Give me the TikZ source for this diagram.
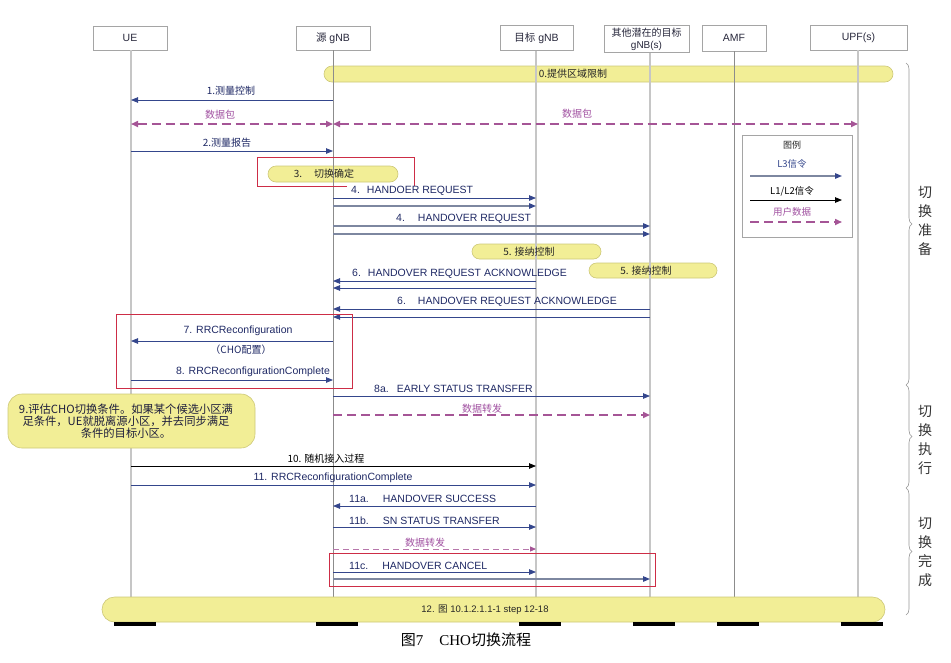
\documentclass[tikz,border=0pt]{standalone}
\usepackage{fontspec}
\setmainfont{Liberation Sans}
\newfontfamily\cjk{Noto Sans CJK SC}
\newfontfamily\lserif{Liberation Serif}
\usetikzlibrary{arrows.meta,decorations.pathreplacing,calc}
\definecolor{lblue}{RGB}{52,70,140}
\definecolor{lgray}{RGB}{125,135,160}
\definecolor{ltext}{RGB}{30,40,100}
\definecolor{upurple}{RGB}{165,85,150}
\definecolor{ptext}{RGB}{160,80,160}
\definecolor{yfill}{RGB}{242,238,150}
\definecolor{ydraw}{RGB}{205,200,120}
\definecolor{rbox}{RGB}{205,45,70}
\definecolor{lline}{RGB}{198,198,198}
\definecolor{dline}{RGB}{140,140,140}
\definecolor{hdrdraw}{RGB}{165,165,165}
\definecolor{htext}{RGB}{40,40,60}
\definecolor{bracec}{RGB}{150,150,150}
\newcommand\sqmsg[4][]{\draw[#1] (#2 |- 0,#4) -- (#3 |- 0,#4);}
\begin{document}
\begin{tikzpicture}[x=1pt,y=-1pt,
 hdr/.style={draw=hdrdraw, fill=white, line width=0.7pt, inner sep=0pt, text=htext, font=\fontsize{10.5}{11.5}\selectfont, align=center},
 life/.style={draw=lline, line width=1.4pt},
 lifed/.style={draw=dline, line width=0.6pt},
 l3/.style={-{Triangle[length=7pt,width=5.5pt,color=lblue]}, draw=lblue, line width=0.8pt},
 l3g/.style={-{Triangle[length=7pt,width=5.5pt,color=lblue]}, draw=lgray, line width=1.2pt},
 l12/.style={-{Triangle[length=7pt,width=5.5pt]}, draw=black, line width=0.8pt},
 ud/.style={-{Triangle[length=7pt,width=6pt,color=upurple]}, draw=upurple, line width=1.6pt, dash pattern=on 9pt off 5pt},
 udb/.style={{Triangle[length=7pt,width=6pt,color=upurple]}-{Triangle[length=7pt,width=6pt,color=upurple]}, draw=upurple, line width=1.6pt, dash pattern=on 9pt off 5pt},
 udt/.style={-{Triangle[length=6pt,width=5pt,color=upurple]}, draw=upurple!80, line width=0.9pt, dash pattern=on 6pt off 4pt},
 lab/.style={font=\fontsize{10.5}{12}\selectfont, text=ltext, inner sep=1pt},
 clab/.style={font=\cjk\fontsize{10}{12}\selectfont, text=ltext, inner sep=1pt},
 plab/.style={font=\cjk\fontsize{10}{12}\selectfont, text=ptext, inner sep=1pt},
 yel/.style={draw=ydraw, fill=yfill, line width=0.6pt},
 redbox/.style={draw=rbox, line width=1pt},
 bracey/.style={draw=bracec, line width=0.6pt, decorate, decoration={brace, amplitude=6pt}},
 vlab/.style={font=\cjk\fontsize{14}{19}\selectfont, align=center, text=black!80, inner sep=0pt}
]
\useasboundingbox (0,0) rectangle (951,662);
% lifeline positions
\coordinate (lUE) at (131,0);
\coordinate (lSRC) at (333,0);
\coordinate (lTGT) at (536,0);
\coordinate (lOTH) at (650,0);
\coordinate (lAMF) at (734,0);
\coordinate (lUPF) at (858,0);

% yellow shapes under lifelines
\node[yel, rounded corners=8pt, minimum width=569, minimum height=16, inner sep=0pt] (b0) at (608.5,74) {};
\node[clab, text=black!85] (b0t) at (573,74) {0.提供区域限制};
\node[yel, rounded corners=8pt, minimum width=130, minimum height=16, inner sep=0pt] (e3) at (333,174) {};
\node[yel, rounded corners=7.5pt, minimum width=129, minimum height=15, inner sep=0pt] (e5a) at (536.5,251.5) {};
\node[yel, rounded corners=7.5pt, minimum width=128, minimum height=15, inner sep=0pt] (e5b) at (653,270.5) {};

% headers
\node[hdr, minimum width=74, minimum height=24] (ue) at (130,38) {UE};
\node[hdr, minimum width=74, minimum height=24] (src) at (333,38) {{\cjk 源} gNB};
\node[hdr, minimum width=73, minimum height=25] (tgt) at (536.5,38) {{\cjk 目标} gNB};
\node[hdr, minimum width=85, minimum height=27, font=\fontsize{10}{12}\selectfont] (oth) at (646.5,39) {{\cjk 其他潜在的目标}\\gNB(s)};
\node[hdr, minimum width=64, minimum height=26] (amf) at (734,38) {AMF};
\node[hdr, minimum width=97, minimum height=25] (upf) at (858.5,37.5) {UPF(s)};

% lifelines
\draw[life] (lUE |- ue.south) -- (lUE |- 0,597);
\draw[lifed] (lSRC |- src.south) -- (lSRC |- 0,597);
\draw[life] (lTGT |- tgt.south) -- (lTGT |- 0,597);
\draw[life] (lOTH |- oth.south) -- (lOTH |- 0,597);
\draw[lifed] (lAMF |- amf.south) -- (lAMF |- 0,597);
\draw[life] (lUPF |- upf.south) -- (lUPF |- 0,597);

% texts on yellow ellipses
\node[clab, text=black!85] (e3t) at (324,174) {3.\hspace{12pt}切换确定};
\node[clab, text=black!85] (e5at) at (529,251.5) {5. 接纳控制};
\node[clab, text=black!85] (e5bt) at (646,270.5) {5. 接纳控制};

% 1
\node[clab] (m1) at (231,91) {1.测量控制};
\sqmsg[l3]{lSRC}{lUE}{100}
% data packets
\node[plab] (d1) at (220,115) {数据包};
\node[plab] (d2) at (577,114) {数据包};
\sqmsg[udb]{lUE}{lSRC}{124}
\sqmsg[udb]{lSRC}{lUPF}{124}
% 2
\node[clab] (m2) at (227,143) {2.测量报告};
\sqmsg[l3]{lUE}{lSRC}{151}
% red box 3
\draw[redbox] (347,186) -- (257,186) -- (257,157) -- (414,157) -- (414,186);
% 4
\node[lab, anchor=west] (m4a) at (350,191) {4.\hspace{7pt}HANDOER REQUEST};
\sqmsg[l3]{lSRC}{lTGT}{198}
\sqmsg[l3g]{lSRC}{lTGT}{206}
\node[lab, anchor=west] (m4b) at (395,218.5) {4.\hspace{13pt}HANDOVER REQUEST};
\sqmsg[l3g]{lSRC}{lOTH}{226}
\sqmsg[l3g]{lSRC}{lOTH}{234}
% 6
\node[lab, anchor=west] (m6a) at (351,274) {6.\hspace{7pt}HANDOVER REQUEST ACKNOWLEDGE};
\sqmsg[l3]{lTGT}{lSRC}{281}
\sqmsg[l3]{lTGT}{lSRC}{288}
\node[lab, anchor=west] (m6b) at (396,302) {6.\hspace{12pt}HANDOVER REQUEST ACKNOWLEDGE};
\sqmsg[l3]{lOTH}{lSRC}{309}
\sqmsg[l3]{lOTH}{lSRC}{317}
% red box 7/8
\draw[redbox] (116,314) rectangle (352,388);
\node[lab] (m7) at (238,331) {7. RRCReconfiguration};
\sqmsg[l3]{lSRC}{lUE}{341}
\node[clab] (m7b) at (241,350) {（CHO配置）};
\node[lab] (m8) at (253,372) {8. RRCReconfigurationComplete};
\sqmsg[l3]{lUE}{lSRC}{380}
% 8a
\node[lab, anchor=west] (m8a) at (373,389) {8a.\hspace{8pt}EARLY STATUS TRANSFER};
\sqmsg[l3]{lSRC}{lOTH}{396}
\node[plab] (d3) at (482,409) {数据转发};
\sqmsg[ud]{lSRC}{lOTH}{415}
% 9
\node[yel, rounded corners=14pt, minimum width=247, minimum height=54, inner sep=0pt] (b9) at (131.5,421) {};
\node[font=\cjk\fontsize{11.3}{12}\selectfont, align=center, text={rgb,255:red,30;green,30;blue,60}, inner sep=0pt] (b9t) at (126,421.5) {9.评估CHO切换条件。如果某个候选小区满\\足条件，UE就脱离源小区，并去同步满足\\条件的目标小区。};
% 10, 11
\node[clab, text=black] (m10) at (326,459) {10. 随机接入过程};
\sqmsg[l12]{lUE}{lTGT}{466}
\node[lab] (m11) at (333,478) {11. RRCReconfigurationComplete};
\sqmsg[l3]{lUE}{lTGT}{485}
\node[lab, anchor=west] (m11a) at (348,499) {11a.\hspace{14pt}HANDOVER SUCCESS};
\sqmsg[l3]{lTGT}{lSRC}{506}
\node[lab, anchor=west] (m11b) at (348,521) {11b.\hspace{14pt}SN STATUS TRANSFER};
\sqmsg[l3]{lSRC}{lTGT}{527}
\node[plab] (d4) at (425,543) {数据转发};
\sqmsg[udt]{lSRC}{lTGT}{549}
% 11c
\draw[redbox] (329,553) rectangle (655,586);
\node[lab, anchor=west] (m11c) at (348,566) {11c.\hspace{14pt}HANDOVER CANCEL};
\sqmsg[l3]{lSRC}{lTGT}{572}
\sqmsg[l3g]{lSRC}{lOTH}{579}
% 12
\node[yel, rounded corners=12.5pt, minimum width=783, minimum height=25, inner sep=0pt] (b12) at (493.5,609.5) {};
\node[font=\fontsize{9.5}{11}\selectfont, text=black!85, inner sep=0pt] (b12t) at (485,610) {12. {\cjk 图} 10.1.2.1.1-1 step 12-18};
\foreach \n in {lUE,lSRC,lTGT,lOTH,lAMF,lUPF}
  \fill[black] ($(\n |- 0,622)+(-17,0)$) rectangle ++(42,3.5);
% caption
\node[font=\fontsize{15}{17}\selectfont, inner sep=0pt] (cap) at (466,640) {{\cjk 图}{\lserif 7\hspace{16pt}CHO}{\cjk 切换流程}};

% legend
\node[draw=hdrdraw, fill=white, line width=0.6pt, minimum width=110, minimum height=102, inner sep=0pt] (lg) at (797,186) {};
\node[font=\cjk\fontsize{9}{11}\selectfont, text=black!85] (lgt) at (792,145) {图例};
\node[font=\cjk\fontsize{9.5}{11}\selectfont, text=lblue] (lg1) at (792,164) {L3信令};
\coordinate (lg1a) at (750,176); \coordinate (lg1b) at (842,176);
\draw[l3g] (lg1a) -- (lg1b);
\node[font=\cjk\fontsize{9.5}{11}\selectfont, text=black] (lg2) at (792,191) {L1/L2信令};
\coordinate (lg2a) at (750,200); \coordinate (lg2b) at (842,200);
\draw[l12] (lg2a) -- (lg2b);
\node[font=\cjk\fontsize{9.5}{11}\selectfont, text=ptext] (lg3) at (792,212) {用户数据};
\coordinate (lg3a) at (750,222); \coordinate (lg3b) at (842,222);
\draw[ud] (lg3a) -- (lg3b);

% braces
\coordinate (br0) at (906,63);
\coordinate (br1) at (906,385);
\coordinate (br2) at (906,488);
\coordinate (br3) at (906,615);
\draw[bracey] (br0) -- (br1);
\draw[bracey] (br1) -- (br2);
\draw[bracey] (br2) -- (br3);
\node[vlab] (v1) at (925,221) {切\\换\\准\\备};
\node[vlab] (v2) at (925,440) {切\\换\\执\\行};
\node[vlab] (v3) at (925,552) {切\\换\\完\\成};
\end{tikzpicture}
\end{document}
